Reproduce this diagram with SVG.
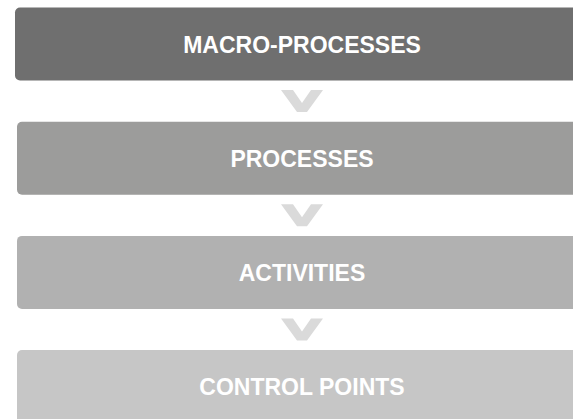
<svg xmlns="http://www.w3.org/2000/svg" width="573" height="419" viewBox="0 0 573 419">
  <defs>
    <style>
      .box { stroke: none; }
      .label { font-family: "Liberation Sans", Arial, Helvetica, sans-serif; font-weight: bold; font-size: 23px; fill: #ffffff; text-anchor: middle; }
      .chev { fill: #dadada; stroke: none; }
    </style>
    <!-- downward chevron, drawn with its top edge at y=0 and centred on x=0 -->
    <polygon id="chevron" class="chev" points="-21,0 -9,0 0,13 9,0 21,0 5,22 -5,22"/>
  </defs>
  <rect width="573" height="419" fill="#ffffff"/>

  <g id="macro-processes">
    <rect class="box" x="15" y="7.5" width="600" height="73" rx="5" fill="#6f6f6f"/>
    <text class="label" x="302" y="52.5">MACRO-PROCESSES</text>
  </g>

  <g id="processes">
    <rect class="box" x="17" y="121.7" width="600" height="73" rx="5" fill="#9c9c9b"/>
    <text class="label" x="302" y="166.7">PROCESSES</text>
  </g>

  <g id="activities">
    <rect class="box" x="17" y="235.9" width="600" height="73" rx="5" fill="#b1b1b1"/>
    <text class="label" x="302" y="280.9">ACTIVITIES</text>
  </g>

  <g id="control-points">
    <rect class="box" x="17" y="350.1" width="600" height="100" rx="5" fill="#c6c6c6"/>
    <text class="label" x="302" y="395.1">CONTROL POINTS</text>
  </g>

  <g id="connectors">
    <use href="#chevron" x="302" y="90"/>
    <use href="#chevron" x="302" y="204.2"/>
    <use href="#chevron" x="302" y="318.4"/>
  </g>
</svg>
